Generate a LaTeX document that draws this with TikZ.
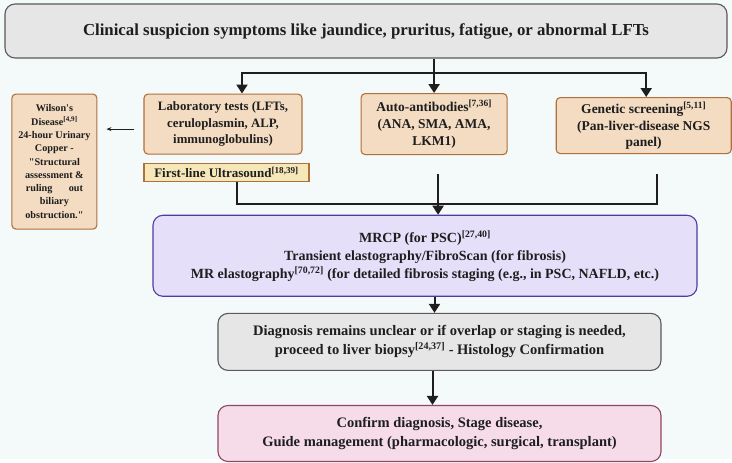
\documentclass[tikz,border=0pt]{standalone}
\usepackage{fontspec}
\setmainfont{Liberation Serif}
\usepackage{xcolor}
\usetikzlibrary{arrows.meta,positioning,calc}
\definecolor{pagebg}{HTML}{F4F9F9}
\definecolor{greyfill}{HTML}{E6E6E6}
\definecolor{greyline}{HTML}{5A5A5A}
\definecolor{tanfill}{HTML}{F3DCC2}
\definecolor{tanline}{HTML}{B0703C}
\definecolor{usfill}{HTML}{F6E7B9}
\definecolor{lavfill}{HTML}{E6DFFA}
\definecolor{lavline}{HTML}{4E3CA0}
\definecolor{pinkfill}{HTML}{F5DCE8}
\definecolor{pinkline}{HTML}{924664}
\definecolor{inkline}{HTML}{1E1E1E}

\begin{document}
\begin{tikzpicture}[
  greybox/.style={rectangle, rounded corners=10pt, draw=greyline, fill=greyfill, line width=1.1pt,
    align=center, inner sep=2pt, text=inkline},
  tanbox/.style={rectangle, rounded corners=4pt, draw=tanline, fill=tanfill, line width=1.1pt,
    align=center, inner sep=2pt, text=inkline, font=\bfseries\fontsize{13.5}{16.8}\selectfont},
  usbox/.style={rectangle, draw=tanline, fill=usfill, line width=1.1pt,
    align=center, inner sep=1pt, text=inkline, font=\bfseries\fontsize{13}{15}\selectfont},
  lavbox/.style={rectangle, rounded corners=10pt, draw=lavline, fill=lavfill, line width=1.1pt,
    align=center, inner sep=2pt, text=inkline, font=\bfseries\fontsize{14}{18}\selectfont},
  pinkbox/.style={rectangle, rounded corners=10pt, draw=pinkline, fill=pinkfill, line width=1.1pt,
    align=center, inner sep=2pt, text=inkline, font=\bfseries\fontsize{14.5}{19}\selectfont},
  link/.style={inkline, line width=2pt},
  arr/.style={-{Triangle[length=9pt,width=11pt]}, inkline, line width=2pt},
  thinarr/.style={-{Stealth[length=5pt,width=4pt]}, inkline, line width=0.8pt}]
\fill[pagebg] (0,0) rectangle (732pt,-459pt);
\node[greybox, minimum width=722pt, minimum height=54pt, font=\bfseries\fontsize{16.8}{20}\selectfont]
  (clin) at (366pt,-31pt) {Clinical suspicion symptoms like jaundice, pruritus, fatigue, or abnormal LFTs};
% second row
\node[tanbox, minimum width=158pt, minimum height=60pt, below right=35pt and 139pt of clin.south west,
  font=\bfseries\fontsize{12.8}{16.8}\selectfont]
  (lab) {Laboratory tests (LFTs,\\ceruloplasmin, ALP,\\immunoglobulins)};
\node[tanbox, minimum width=146pt, minimum height=61pt, right=58pt of lab]
  (auto) {Auto-antibodies\textsuperscript{[7,36]}\\(ANA, SMA, AMA,\\LKM1)};
\node[tanbox, minimum width=175pt, minimum height=56pt, right=48pt of auto, yshift=-1.5pt]
  (gen) {Genetic screening\textsuperscript{[5,11]}\\(Pan-liver-disease NGS\\panel)};
\node[usbox, minimum width=165pt, minimum height=18pt, below right=8pt and 0pt of lab.south west]
  (us) {First-line Ultrasound\textsuperscript{[18,39]}};
\node[tanbox, minimum width=85pt, minimum height=135pt, below left=0pt and 46pt of lab.north west,
  font=\bfseries\fontsize{10.2}{13.3}\selectfont]
  (wil) {Wilson\textquotesingle s\\Disease\textsuperscript{[4,9]}\\24-hour Urinary\\Copper -\\\textquotedbl Structural\\assessment \&\\ruling\hspace{1.6em}out\\biliary\\obstruction.\textquotedbl};
% imaging, biopsy, outcome
\node[lavbox, minimum width=544pt, minimum height=81pt, below right=33pt and 9pt of us.south west]
  (mrcp) {MRCP (for PSC)\textsuperscript{[27,40]}\\Transient elastography/FibroScan (for fibrosis)\\MR elastography\textsuperscript{[70,72]} (for detailed fibrosis staging (e.g., in PSC, NAFLD, etc.)};
\node[greybox, minimum width=443pt, minimum height=57pt, below=16pt of mrcp, xshift=14.5pt,
  font=\bfseries\fontsize{14.5}{19}\selectfont]
  (diag) {Diagnosis remains unclear or if overlap or staging is needed,\\proceed to liver biopsy\textsuperscript{[24,37]} - Histology Confirmation};
\node[pinkbox, minimum width=443pt, minimum height=56pt, below=34pt of diag]
  (conf) {Confirm diagnosis, Stage disease,\\Guide management (pharmacologic, surgical, transplant)};
% connectors
\coordinate (bus) at ($(clin.south -| auto.north)+(0,-14pt)$);
\draw[link] (clin.south -| auto.north) -- (bus);
\draw[arr] (bus) -| ([xshift=19pt]lab.north);
\draw[arr] (bus) -| ([xshift=2.5pt]gen.north);
\draw[arr] (bus) -- (auto.north);
\draw[thinarr, shorten <=9pt, shorten >=9pt] ([yshift=-5pt]lab.west) -- ([yshift=-5pt]lab.west -| wil.east);
\coordinate (mrg) at ($(mrcp.north)+(0,11pt)$);
\coordinate (gtail) at ([xshift=13.5pt,yshift=-20pt]gen.south);
\draw[link] ([xshift=10pt]us.south) |- (gtail |- mrg) -- (gtail);
\coordinate (atail) at ([xshift=4pt,yshift=-19pt]auto.south);
\draw[arr] (atail) -- (atail |- mrcp.north);
\draw[arr] ([xshift=-5pt]diag.north |- mrcp.south) -- ([xshift=-5pt]diag.north);
\draw[arr] ([xshift=-7pt]diag.south) -- ([xshift=-7pt]conf.north);
\end{tikzpicture}
\end{document}
